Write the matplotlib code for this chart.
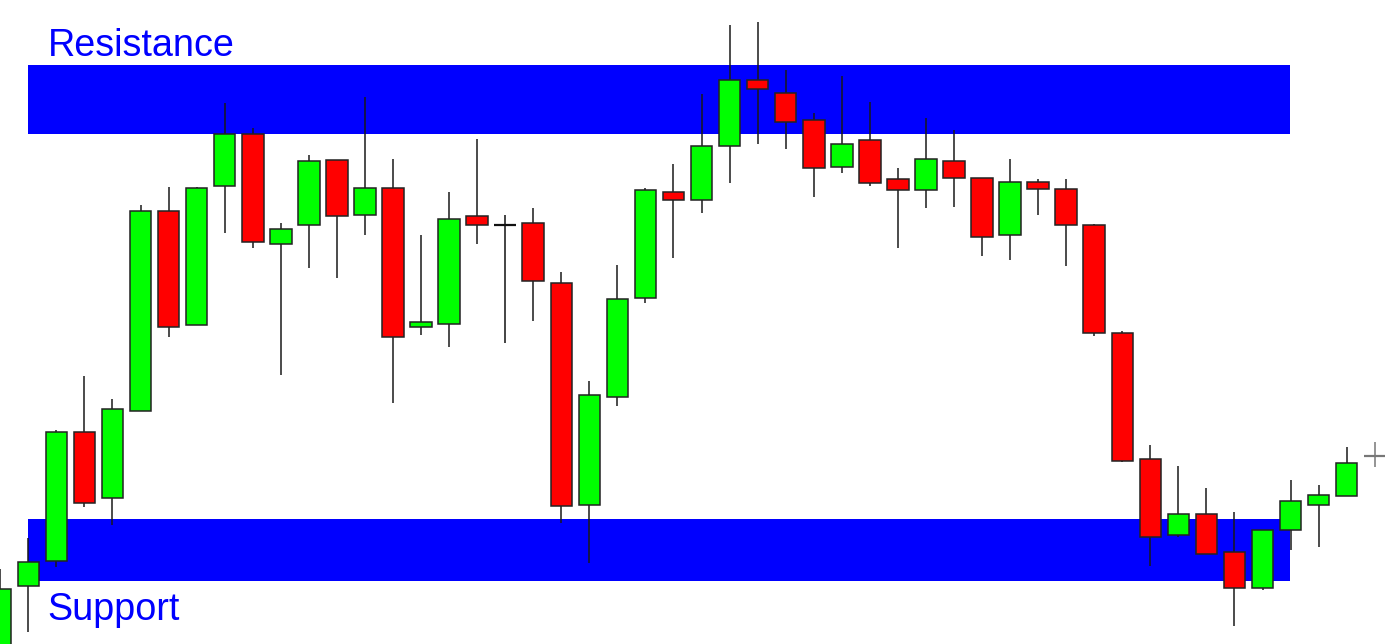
import matplotlib
matplotlib.use("Agg")
import matplotlib.pyplot as plt
from matplotlib.patches import Rectangle

# OHLC data (arbitrary price units)
opens  = [-16, 58, 83, 212, 146, 233, 433, 319, 458, 510, 400, 419, 484, 429, 456, 317, 320.5, 428, 419, 421,
          361, 139, 247, 346, 452, 444, 498, 564, 551, 524, 477, 504, 465, 454, 483, 466, 409, 462, 455, 419,
          311, 185, 109, 130, 92, 56, 114, 139, 148, 188]
highs  = [75, 106, 214, 268, 245, 439, 457, 457, 541, 516, 421, 489, 484, 547, 485, 409, 452, 505, 429, 436,
          372, 263, 379, 456, 480, 550, 619, 622, 574, 531, 568, 542, 476, 526, 514, 466, 485, 465, 465, 420,
          313, 199, 178, 156, 132, 114, 164, 159, 197, 202]
lows   = [-26, 12, 77, 137, 119, 233, 307, 319, 411, 396, 269, 376, 366, 409, 241, 309, 297, 400, 301, 323,
          121, 81, 238, 341, 386, 431, 461, 500, 495, 447, 471, 458, 396, 436, 437, 388, 384, 429, 378, 308,
          182, 78, 107, 90, 18, 54, 94, 97, 148, 177]
closes = [55, 82, 212, 141, 235, 433, 317, 456, 510, 402, 415, 483, 428, 456, 307, 322, 425, 419, 419, 363,
          138, 249, 345, 454, 444, 498, 564, 555, 522, 476, 500, 461, 454, 485, 466, 407, 462, 455, 419, 311,
          183, 107, 130, 90, 56, 114, 143, 149, 181, 188]
doji_colors = {18: "#111111", 49: "#777777"}

# Support / resistance zones
res_low, res_high = 510.5, 579.5
sup_low, sup_high = 63.3, 125.5
zone_start, zone_end = 0.99, 45.98
zone_color = "#0000FF"
labels = ["Resistance", "Support"]

fig = plt.figure(figsize=(13.85, 6.44), dpi=100)
ax = fig.add_axes([0, 0, 1, 1])
ax.set_xlim(-0.3 / 28.05, (1385 - 0.3) / 28.05)
ax.set_ylim(0, 644)
ax.axis("off")

# zones
for lo, hi in [(res_low, res_high), (sup_low, sup_high)]:
    ax.add_patch(Rectangle((zone_start, lo), zone_end - zone_start, hi - lo,
                           facecolor=zone_color, edgecolor="none", zorder=1))

width = 0.767
for i, (o, h, l, c) in enumerate(zip(opens, highs, lows, closes)):
    if i in doji_colors:
        col = doji_colors[i]
        ax.vlines(i, l, h, color=col, lw=1.1, zorder=3)
        ax.hlines(o, i - width / 2, i + width / 2, color=col, lw=1.6, zorder=3)
        continue
    up = c >= o
    face = "#00FF00" if up else "#FF0000"
    ax.vlines(i, l, h, color="#1a1a1a", lw=1.1, zorder=2)
    bottom = min(o, c)
    ax.add_patch(Rectangle((i - width / 2, bottom), width, abs(c - o),
                           facecolor=face, edgecolor="#222222", lw=1.1, zorder=3))

ax.text(1.70, 588.5, labels[0], color=zone_color, fontsize=27.2,
        family=["Liberation Sans", "DejaVu Sans"], va="baseline", ha="left", zorder=4)
ax.text(1.68, 24, labels[1], color=zone_color, fontsize=27.2,
        family=["Liberation Sans", "DejaVu Sans"], va="baseline", ha="left", zorder=4)

fig.savefig("out.png", dpi=100, facecolor="white")
